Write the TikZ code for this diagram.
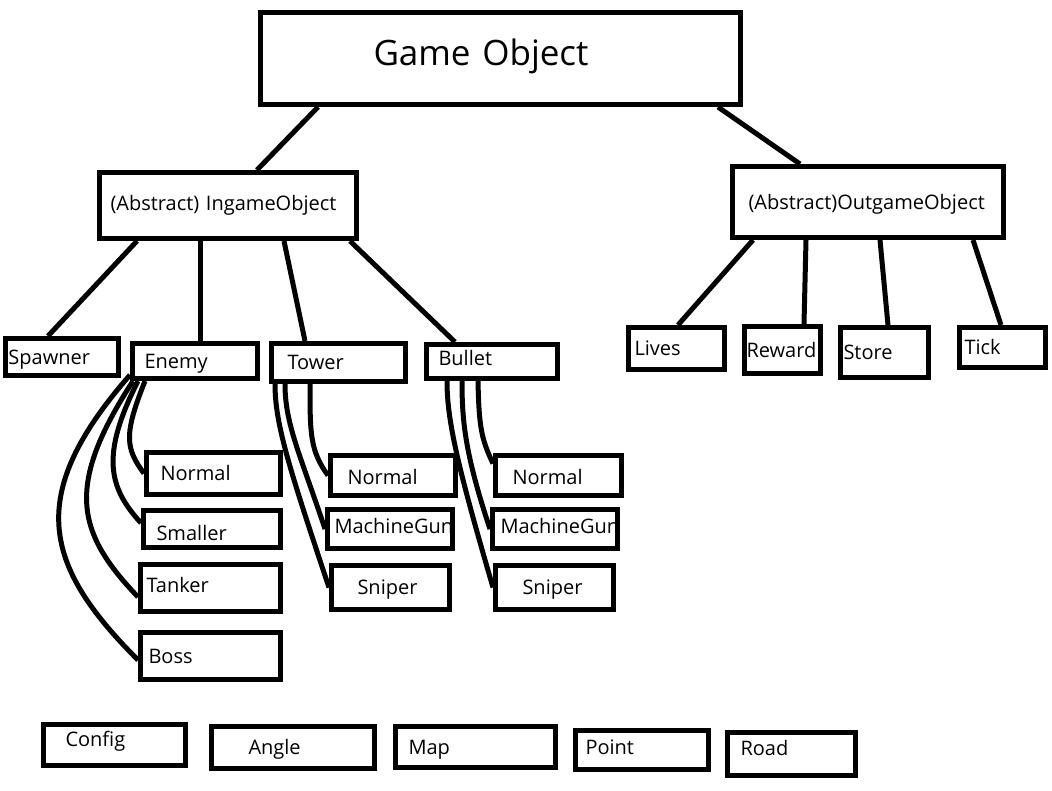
\documentclass[tikz,border=0pt]{standalone}
\usepackage{fontspec}
\setmainfont{Open Sans}
\usepackage{tikz}
\tikzset{
  cls/.style={draw, line width=5pt, anchor=north west, inner ysep=0pt, align=left,
    text height=17pt, text depth=3pt, font=\fontsize{20}{23}\selectfont},
  dims/.code n args={3}{%
    \pgfmathsetmacro\clsw{#1-5}%
    \pgfmathsetmacro\clsh{#2-5}%
    \pgfmathsetmacro\clsin{#3-4}%
    \pgfmathsetmacro\clstw{#1-5-2*(#3-4)}%
    \tikzset{minimum width=\clsw pt, minimum height=\clsh pt, inner xsep=\clsin pt, text width=\clstw pt}},
  high/.style={text depth=9pt},
  link/.style={line width=5pt},
}
\begin{document}
\begin{tikzpicture}[x=1pt, y=-1pt]
            \fill[white] (0,0) rectangle (1052,790);
            \useasboundingbox (0,0) rectangle (1052,790);
            \node[cls, dims={485}{97}{117}, text height=26pt, text depth=13pt, font=\fontsize{35}{40}\selectfont] (game) at (258,10) {Game Object};
            \node[cls, dims={262}{71}{15}, text depth=7pt] (ingame) at (97,170) {(Abstract) IngameObject};
            \node[cls, dims={276}{76}{20}] (outgame) at (730,164) {(Abstract)OutgameObject};

            \node[cls, dims={118}{42}{7}] (spawner) at (3,336) {Spawner};
            \node[cls, dims={130}{40}{16}] (enemy) at (130,341) {Enemy};
            \node[cls, dims={139}{43}{20}] (tower) at (269,341) {Tower};
            \node[cls, dims={136}{39}{16}, high] (bullet) at (424,342) {Bullet};

            \node[cls, dims={101}{47}{10}] (lives) at (626,325) {Lives};
            \node[cls, dims={81}{52}{6}] (reward) at (742,324) {Reward};
            \node[cls, dims={93}{55}{7}] (store) at (838,325) {Store};
            \node[cls, dims={91}{45}{9}] (tick) at (957,325) {Tick};

            \node[cls, dims={139}{47}{18}] (enormal) at (144,450) {Normal};
            \node[cls, dims={142}{42}{17}, text height=26pt, text depth=4pt] (esmall) at (141,508) {Smaller};
            \node[cls, dims={145}{52}{10}, high] (etank) at (138,562) {Tanker};
            \node[cls, dims={145}{52}{12}] (eboss) at (138,630) {Boss};

            \node[cls, dims={130}{45}{21}, text height=20pt] (tnormal) at (328,453) {Normal};
            \node[cls, dims={130}{44}{11}, high] (tgun) at (325,507) {MachineGun};
            \node[cls, dims={123}{49}{30}] (tsniper) at (329,563) {Sniper};

            \node[cls, dims={131}{45}{21}, text height=20pt] (bnormal) at (493,453) {Normal};
            \node[cls, dims={130}{44}{12}, high] (bgun) at (490,507) {MachineGun};
            \node[cls, dims={123}{49}{31}] (bsniper) at (493,563) {Sniper};

            \node[cls, dims={147}{46}{26}, text depth=15pt] (config) at (41,722) {Config};
            \node[cls, dims={168}{47}{41}] (angle) at (209,724) {Angle};
            \node[cls, dims={165}{46}{17}] (map) at (393,724) {Map};
            \node[cls, dims={138}{44}{14}, high] (point) at (573,728) {Point};
            \node[cls, dims={133}{48}{17}, text depth=15pt] (road) at (725,730) {Road};

            \draw[link] ([xshift=60pt]game.south west) -- ([xshift=160pt]ingame.north west);
            \draw[link] ([xshift=460pt]game.south west) -- ([xshift=70pt]outgame.north west);

            \draw[link] ([xshift=40pt]ingame.south west) -- ([xshift=45pt]spawner.north west);
            \draw[link] ([xshift=103pt]ingame.south west) -- ([xshift=70pt]enemy.north west);
            \draw[link] ([xshift=187pt]ingame.south west) -- ([xshift=36pt]tower.north west);
            \draw[link] ([xshift=253pt]ingame.south west) -- ([xshift=31pt]bullet.north west);

            \draw[link] ([xshift=23pt]outgame.south west) -- ([xshift=52pt]lives.north west);
            \draw[link] ([xshift=76pt]outgame.south west) -- ([xshift=62pt]reward.north west);
            \draw[link] ([xshift=150pt]outgame.south west) -- ([xshift=50pt]store.north west);
            \draw[link] ([xshift=243pt]outgame.south west) -- ([xshift=44pt]tick.north west);

            \draw[link] ([xshift=15pt]enemy.south west) .. controls +(-22,55) and +(-18,-25) .. (enormal.west);
            \draw[link] ([xshift=8pt]enemy.south west) .. controls +(-38,75) and +(-32,-35) .. ([yshift=6pt]esmall.west);
            \draw[link] ([xshift=3pt]enemy.south west) .. controls +(-68,105) and +(-62,-65) .. ([yshift=-9pt]etank.west);
            \draw[link] ([yshift=6pt]enemy.south west) .. controls +(-105,120) and +(-95,-95) .. ([yshift=-4pt]eboss.west);

            \draw[link] ([xshift=41pt]tower.south west) .. controls +(0,50) and +(-18,-25) .. (tnormal.west);
            \draw[link] ([xshift=16pt]tower.south west) .. controls +(0,40) and +(-25,-75) .. (tgun.west);
            \draw[link] ([xshift=6pt]tower.south west) .. controls +(0,40) and +(-40,-120) .. (tsniper.west);

            \draw[link] ([xshift=54pt]bullet.south west) .. controls +(1,45) and +(-12,-25) .. ([yshift=12pt]bnormal.west);
            \draw[link] ([xshift=38pt]bullet.south west) .. controls +(0,40) and +(-25,-75) .. (bgun.west);
            \draw[link] ([xshift=23pt]bullet.south west) .. controls +(0,40) and +(-35,-120) .. (bsniper.west);
        \end{tikzpicture}
\end{document}
